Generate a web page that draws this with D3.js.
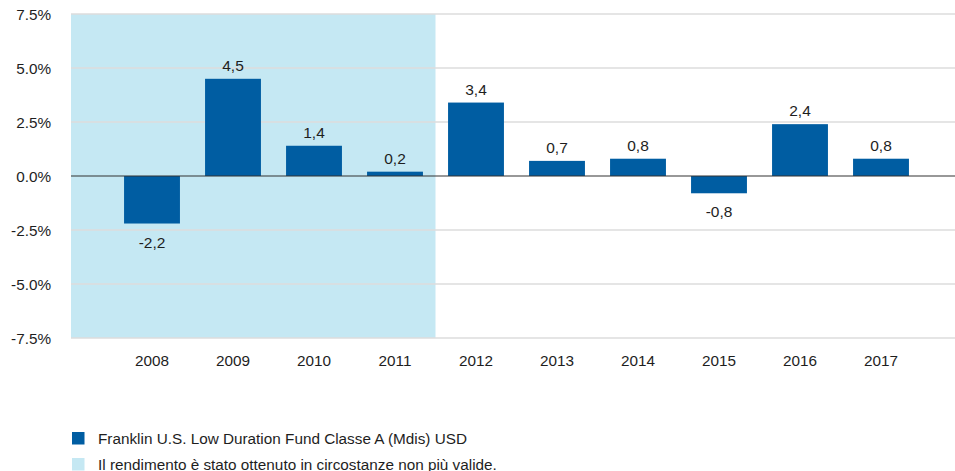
<!DOCTYPE html>
<html>
<head>
<meta charset="utf-8">
<script src="https://cdn.jsdelivr.net/npm/d3@7"></script>
<style>
  html, body { margin: 0; padding: 0; background: #fff; }
  svg { display: block; font-family: "Liberation Sans", Arial, sans-serif; }
</style>
</head>
<body>
<svg id="chart" width="955" height="471"></svg>
<script>
const years = ["2008","2009","2010","2011","2012","2013","2014","2015","2016","2017"];
const returns = [-2.2, 4.5, 1.4, 0.2, 3.4, 0.7, 0.8, -0.8, 2.4, 0.8];
const shadedYears = ["2008","2009","2010","2011"];
const yTicks = [-7.5, -5.0, -2.5, 0.0, 2.5, 5.0, 7.5];
const legendLabels = [
  "Franklin U.S. Low Duration Fund Classe A (Mdis) USD",
  "Il rendimento è stato ottenuto in circostanze non più valide."
];

const barColor = "#005da2";
const shadeColor = "#c5e8f3";
const textColor = "#1e1e1e";

const svg = d3.select("#chart");
const plotLeft = 71, plotRight = 955, plotTop = 14, plotBottom = 338;

const y = d3.scaleLinear().domain([-7.5, 7.5]).range([plotBottom, plotTop]);
const x = d3.scaleBand().domain(years).range([111.5, 921.5]).paddingInner(0.31).paddingOuter(0.155);

const hyphen = s => s.replace("\u2212", "-");

// shaded region
const lastShaded = shadedYears[shadedYears.length - 1];
const shadeEnd = x(lastShaded) + x.bandwidth() + x.step() * x.paddingInner() / 2;
svg.append("rect")
  .attr("x", plotLeft).attr("y", y(7.5))
  .attr("width", shadeEnd - plotLeft).attr("height", y(-7.5) - y(7.5))
  .attr("fill", shadeColor);

// gridlines
svg.append("g").selectAll("line").data(yTicks.filter(d => d !== 0)).join("line")
  .attr("x1", plotLeft).attr("x2", plotRight)
  .attr("y1", d => y(d)).attr("y2", d => y(d))
  .attr("stroke", "#dcdcdc").attr("stroke-width", 1.5);

// y axis labels
const yAxis = d3.axisLeft(y).tickValues(yTicks).tickSize(0).tickPadding(0)
  .tickFormat(d => hyphen(d3.format(".1f")(d)) + "%");
const gy = svg.append("g").attr("transform", `translate(51,0)`).call(yAxis);
gy.select(".domain").remove();
gy.selectAll("text").attr("font-size", 15.3).attr("fill", textColor)
  .attr("font-family", "Liberation Sans, Arial, sans-serif").attr("dy", "0.36em");

// bars
svg.append("g").selectAll("rect").data(years).join("rect")
  .attr("x", d => x(d))
  .attr("width", x.bandwidth())
  .attr("y", (d, i) => y(Math.max(0, returns[i])))
  .attr("height", (d, i) => Math.abs(y(returns[i]) - y(0)))
  .attr("fill", barColor);

// zero line
svg.append("line")
  .attr("x1", plotLeft).attr("x2", plotRight)
  .attr("y1", y(0)).attr("y2", y(0))
  .attr("stroke", "#333").attr("stroke-width", 1.2);

// value labels
const fmt = v => hyphen(d3.format(".1f")(v)).replace(".", ",");
svg.append("g").selectAll("text").data(years).join("text")
  .attr("x", d => x(d) + x.bandwidth() / 2)
  .attr("y", (d, i) => returns[i] >= 0 ? y(returns[i]) - 8 : y(returns[i]) + 24)
  .attr("text-anchor", "middle")
  .attr("font-size", 15.5).attr("fill", textColor)
  .text((d, i) => fmt(returns[i]));

// x axis labels
const xAxis = d3.axisBottom(x).tickSize(0).tickPadding(0);
const gx = svg.append("g").attr("transform", `translate(0,${y(-7.5)})`).call(xAxis);
gx.select(".domain").remove();
gx.selectAll("text").attr("font-size", 15.3).attr("fill", textColor)
  .attr("font-family", "Liberation Sans, Arial, sans-serif")
  .attr("dy", null).attr("y", 28);

// legend
const legendColors = [barColor, shadeColor];
const lg = svg.append("g").selectAll("g").data(legendLabels).join("g")
  .attr("transform", (d, i) => `translate(72,${432 + i * 26})`);
lg.append("rect").attr("width", 12.5).attr("height", 12.5)
  .attr("fill", (d, i) => legendColors[i]);
lg.append("text").attr("x", 26).attr("y", 11.5)
  .attr("font-size", 15.3).attr("fill", textColor).text(d => d);
</script>
</body>
</html>
